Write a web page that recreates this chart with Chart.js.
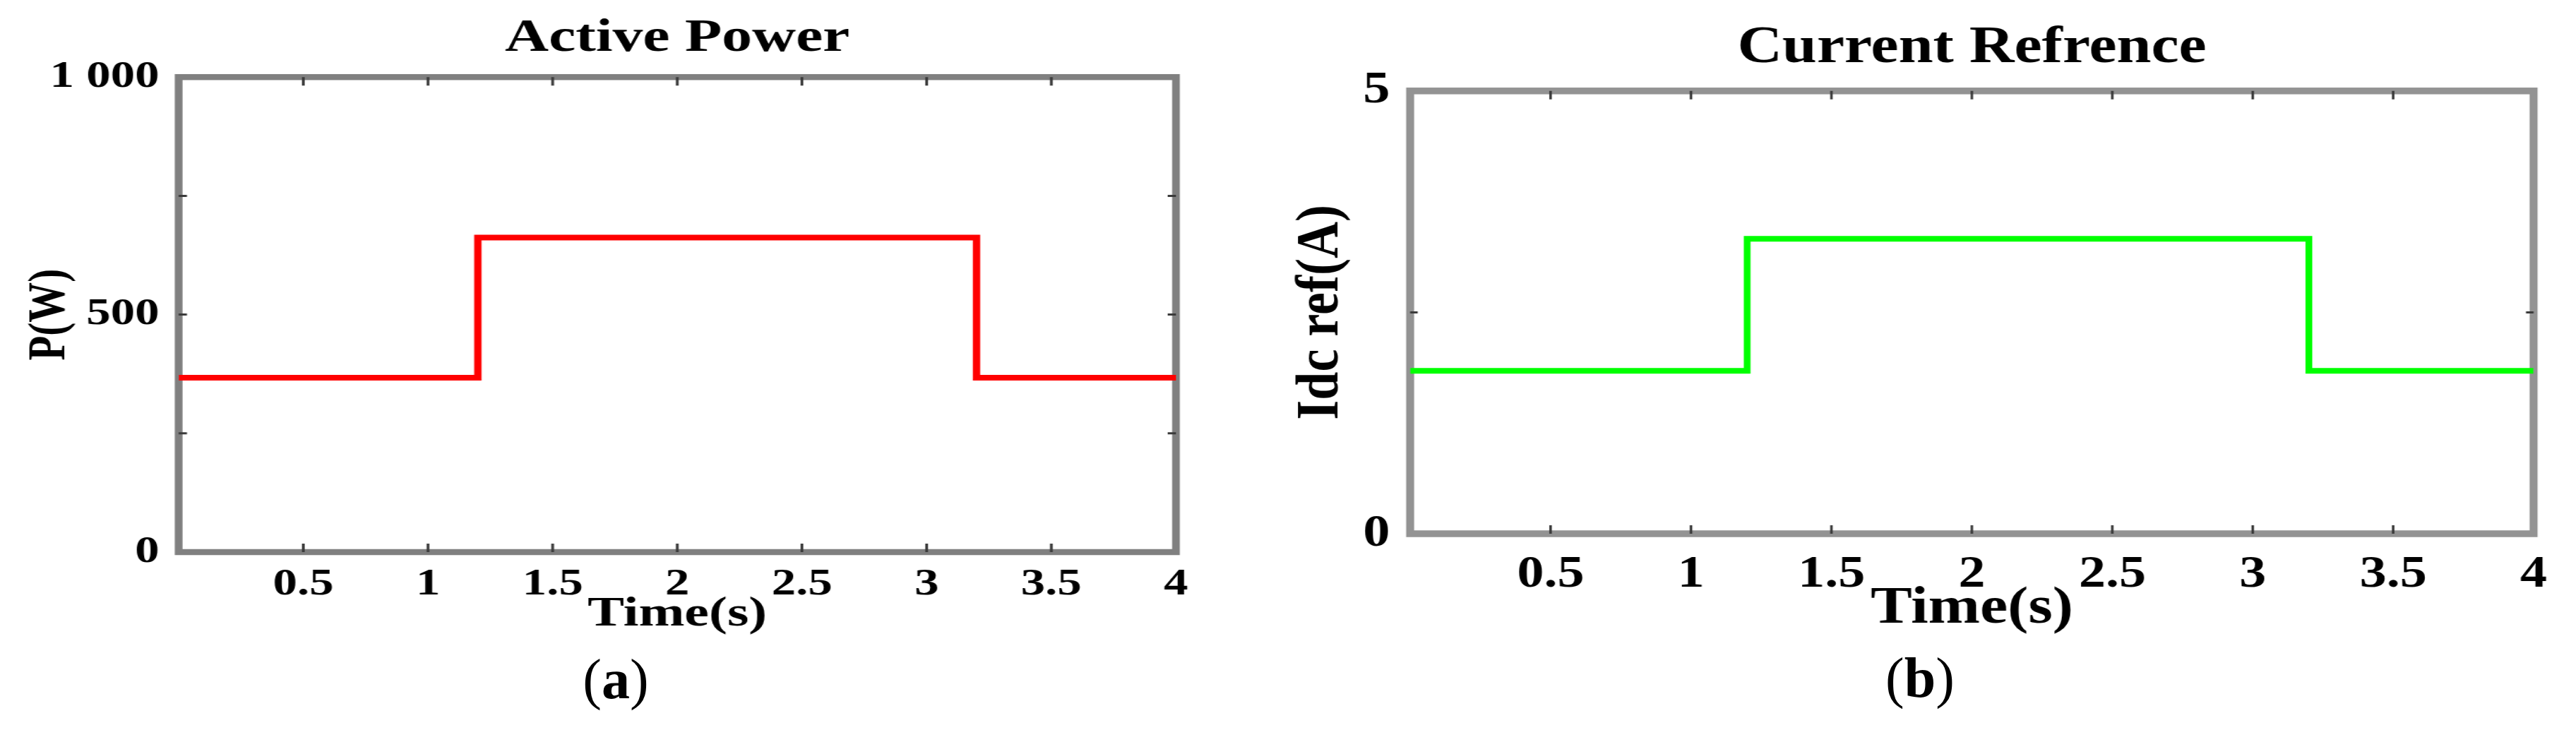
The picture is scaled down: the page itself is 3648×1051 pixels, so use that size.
<!DOCTYPE html>
<html>
<head>
<meta charset="utf-8">
<script src="https://cdn.jsdelivr.net/npm/chart.js@4.4.1/dist/chart.umd.min.js"></script>
<style>
  html, body { margin: 0; padding: 0; background: #ffffff; }
  #wrap { position: relative; width: 3648px; height: 1051px; background: #ffffff; overflow: hidden; }
  canvas { position: absolute; top: 0; }
  .cap { position: absolute; width: 200px; text-align: center; font-family: 'Liberation Serif', serif; font-size: 80px; line-height: 1; color: #000; }
</style>
</head>
<body>
<div id="wrap">
  <canvas id="c1" width="1380" height="1051" style="left:0px;width:1794px;height:1051px"></canvas>
  <canvas id="c2" width="1553" height="1051" style="left:1800px;width:1848px;height:1051px"></canvas>
  <div class="cap" style="left:772px;top:922px;">(<b>a</b>)</div>
  <div class="cap" style="left:2619px;top:920px;">(<b>b</b>)</div>
</div>
<script>
// ---- data ----
const timeSec = [0, 1.2, 1.2, 3.2, 3.2, 4];
const activePowerW = [367, 367, 662, 662, 367, 367];
const idcRefA = [1.84, 1.84, 3.33, 3.33, 1.84, 1.84];

const xTickStep = 0.5;
const yTicksA = [0, 500, 1000];
const yTickLabelsA = ['0', '500', '1 000'];
const yTicksB = [0, 5];
const yTickLabelsB = ['0', '5'];

const FONT = 'Liberation Serif';

// frame + inward (MATLAB-style) tick marks drawn from the library's scales
const frameTicks = {
  id: 'frameTicks',
  beforeDatasetsDraw(chart, args, o) {
    const {ctx, chartArea: a} = chart;
    ctx.save();
    ctx.strokeStyle = o.frameColor;
    ctx.lineWidth = o.frameWidth;
    ctx.strokeRect(a.left, a.top, a.right - a.left, a.bottom - a.top);
    ctx.strokeStyle = o.tickColor;
    ctx.lineWidth = o.tickWidth;
    const xs = chart.scales.x, ys = chart.scales.y;
    xs.ticks.forEach(t => {
      if (t.value <= xs.min || t.value >= xs.max) return;
      const px = xs.getPixelForValue(t.value);
      ctx.beginPath();
      ctx.moveTo(px, a.bottom); ctx.lineTo(px, a.bottom - o.tickLenV);
      ctx.moveTo(px, a.top); ctx.lineTo(px, a.top + o.tickLenV);
      ctx.stroke();
    });
    ys.ticks.forEach(t => {
      if (t.value <= ys.min || t.value >= ys.max) return;
      const py = ys.getPixelForValue(t.value);
      ctx.beginPath();
      ctx.moveTo(a.left, py); ctx.lineTo(a.left + o.tickLenH, py);
      ctx.moveTo(a.right, py); ctx.lineTo(a.right - o.tickLenH, py);
      ctx.stroke();
    });
    ctx.restore();
  }
};

function makeChart(id, cfg) {
  const pts = timeSec.map((t, i) => ({x: t, y: cfg.values[i]}));
  return new Chart(document.getElementById(id), {
    type: 'line',
    data: {
      datasets: [{
        data: pts,
        borderColor: cfg.color,
        borderWidth: cfg.lineWidth,
        pointRadius: 0,
        tension: 0,
        fill: false
      }]
    },
    options: {
      responsive: false,
      animation: false,
      devicePixelRatio: 1,
      layout: { padding: cfg.padding },
      plugins: {
        legend: { display: false },
        tooltip: { enabled: false },
        title: {
          display: true,
          text: cfg.title,
          fullSize: false,
          color: '#000',
          font: { family: FONT, size: cfg.titleSize, weight: 'bold', lineHeight: 1.2 },
          padding: cfg.titlePad
        },
        frameTicks: cfg.frame
      },
      scales: {
        x: {
          type: 'linear',
          min: 0, max: 4,
          grid: { display: false, drawTicks: false },
          border: { display: false },
          ticks: {
            stepSize: xTickStep,
            autoSkip: false,
            maxRotation: 0,
            color: '#000',
            padding: cfg.xTickPad,
            font: { family: FONT, size: cfg.tickSize, weight: 'bold', lineHeight: 1.2 },
            callback: v => (v === 0 ? '' : String(v))
          },
          title: {
            display: true,
            text: 'Time(s)',
            color: '#000',
            font: { family: FONT, size: cfg.xTitleSize, weight: 'bold', lineHeight: 1.2 },
            padding: { top: 0, bottom: cfg.xTitlePadB }
          },
          afterFit: s => { s.height = cfg.xHeight; }
        },
        y: {
          type: 'linear',
          min: cfg.yMin, max: cfg.yMax,
          grid: { display: false, drawTicks: false },
          border: { display: false },
          ticks: {
            stepSize: cfg.yStep,
            autoSkip: false,
            color: '#000',
            padding: cfg.yTickPad,
            font: { family: FONT, size: cfg.yTickSize, weight: 'bold', lineHeight: 1.2 },
            callback: v => {
              const k = cfg.yTicks.indexOf(v);
              return k >= 0 ? cfg.yLabels[k] : '';
            }
          },
          title: {
            display: true,
            text: cfg.yTitle,
            color: '#000',
            font: { family: FONT, size: cfg.yTitleSize, weight: 'bold', lineHeight: 1.2 },
            padding: { top: cfg.yTitlePad, bottom: 0 }
          },
          afterFit: s => { s.width = cfg.yWidth; }
        }
      }
    },
    plugins: [frameTicks]
  });
}

makeChart('c1', {
  values: activePowerW,
  color: '#ff0000',
  lineWidth: 8,
  title: 'Active Power',
  titleSize: 66,
  titlePad: { top: 15, bottom: 15 },
  padding: { left: 0, right: 99, top: 0, bottom: 140 },
  tickSize: 53,
  xTickPad: 15,
  xTitleSize: 60,
  xTitlePadB: 5,
  xHeight: 129,
  yMin: 0, yMax: 1000, yStep: 250,
  yTicks: yTicksA, yLabels: yTickLabelsA,
  yTickSize: 53,
  yTickPad: 21,
  yTitle: 'P(W)',
  yTitleSize: 57,
  yTitlePad: 21,
  yWidth: 194.6,
  frame: { frameColor: '#808080', frameWidth: 8.5, tickColor: '#3a3a3a', tickWidth: 3, tickLenV: 12, tickLenH: 9 }
});

makeChart('c2', {
  values: idcRefA,
  color: '#00ff00',
  lineWidth: 8,
  title: 'Current Refrence',
  titleSize: 74,
  titlePad: { top: 24, bottom: 16 },
  padding: { left: 0, right: 50.5, top: 0, bottom: 139.6 },
  tickSize: 64,
  xTickPad: 20,
  xTitleSize: 74,
  xTitlePadB: 4,
  xHeight: 155.4,
  yMin: 0, yMax: 5, yStep: 2.5,
  yTicks: yTicksB, yLabels: yTickLabelsB,
  yTickSize: 64,
  yTickPad: 24,
  yTitle: 'Idc ref(A)',
  yTitleSize: 72,
  yTitlePad: 17,
  yWidth: 165.5,
  frame: { frameColor: '#939393', frameWidth: 9.5, tickColor: '#3a3a3a', tickWidth: 3, tickLenV: 12, tickLenH: 9 }
});
</script>
</body>
</html>
